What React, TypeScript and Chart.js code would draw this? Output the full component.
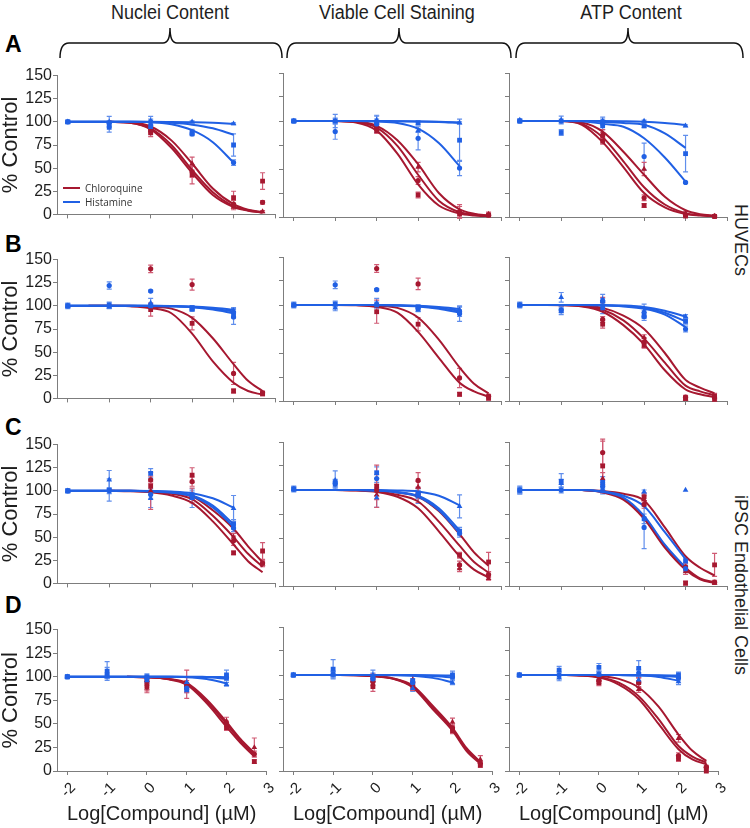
import React, { useEffect, useRef } from 'react';
import { Chart, registerables } from 'chart.js';

Chart.register(...registerables);

// ---------- labels ----------
const COLUMN_TITLES = ['Nuclei Content', 'Viable Cell Staining', 'ATP Content'];
const ROW_LETTERS = ['A', 'B', 'C', 'D'];
const CELL_LABELS = ['HUVECs', 'iPSC Endothelial Cells'];
const COMPOUNDS = ['Chloroquine', 'Histamine'];
const X_TITLE = 'Log[Compound] (µM)';
const Y_TITLE = '% Control';

// ---------- axes ----------
const X_TICKS = [-2, -1, 0, 1, 2, 3];
const Y_TICKS = [0, 25, 50, 75, 100, 125, 150];
const MARKERS = ['rect', 'circle', 'triangle'];

// ---------- x positions ----------
const HIS_X = [-2, -1, 0, 1, 2];
const CHL_X = [0, 1, 2, 2.7];
const FIT_X = [-2, -1.5, -1, -0.5, 0, 0.5, 1, 1.5, 2, 2.35, 2.7];

// ---------- Row A (HUVECs) ----------
const A1_HIS = [[100, 94, 95, 89, 75], [100, 98, 100, 87, 56], [100, 100, 101, 100, 98]];
const A1_HIS_ERR = [[2, 5, 4, 3, 12], [1, 3, 3, 2, 3], [1, 6, 5, 1, 1]];
const A1_HIS_FIT = [
  [100, 100, 100, 100, 99.8, 99, 97, 93, 86, null, null],
  [100, 100, 100, 100, 99.5, 97.5, 91, 78, 56, null, null],
  [100, 100, 100, 100, 100, 99.8, 99.5, 99, 98, null, null],
];
const A1_CHL = [[88, 43, 18, 36], [90, 46, 11, 13], [93, 55, 8, 3]];
const A1_CHL_ERR = [[4, 10, 7, 9], [3, 6, 4, 2], [3, 7, 3, 1]];
const A1_CHL_FIT = [
  [null, null, 100, 99, 92, 72, 45, 21, 8, 4, 2],
  [null, null, 100, 99, 93, 75, 48, 24, 9, 4.5, 2],
  [null, null, 100, 99.5, 95, 80, 55, 28, 11, 5, 2.5],
];

const A2_HIS = [[100, 100, 98, 98, 80], [100, 89, 97, 82, 51], [100, 100, 101, 90, 98]];
const A2_HIS_ERR = [[2, 3, 4, 2, 22], [1, 8, 9, 12, 8], [1, 7, 4, 2, 1]];
const A2_HIS_FIT = [
  [100, 100, 100, 100, 100, 99.8, 99.5, 99, 98, null, null],
  [100, 100, 100, 100, 99.5, 98, 92, 77, 53, null, null],
  [100, 100, 100, 100, 100, 99.8, 99.6, 99.2, 98.5, null, null],
];
const A2_CHL = [[90, 23, 3, 2], [93, 38, 5, 2], [95, 52, 6, 3]];
const A2_CHL_ERR = [[3, 3, 4, 1], [3, 4, 6, 1], [3, 5, 7, 2]];
const A2_CHL_FIT = [
  [null, null, 100, 98.5, 90, 66, 34, 12, 3.5, 1.5, 0.7],
  [null, null, 100, 99, 93, 74, 44, 17, 5, 2.5, 1],
  [null, null, 100, 99.5, 95, 80, 55, 25, 8, 3.5, 1.5],
];

const A3_HIS = [[100, 88, 95, 95, 66], [100, 100, 99, 63, 36], [101, 101, 100, 100, 95]];
const A3_HIS_ERR = [[2, 3, 4, 2, 19], [1, 2, 3, 14, 1], [1, 4, 4, 1, 1]];
const A3_HIS_FIT = [
  [100, 100, 100, 100, 99, 98, 96, 87, 72, null, null],
  [100, 100, 100, 99.8, 97, 94, 82, 62, 37, null, null],
  [100, 100, 100, 100, 100, 99.8, 99.3, 98, 96, null, null],
];
const A3_CHL = [[79, 12, 1, 0.5], [85, 20, 2, 1], [87, 50, 4, 1]];
const A3_CHL_ERR = [[3, 2, 1, 0.5], [3, 3, 1, 0.5], [4, 7, 2, 1]];
const A3_CHL_FIT = [
  [null, 100, 100, 96, 78, 52, 25, 10, 3, 1.5, 0.7],
  [null, 100, 100, 97, 83, 58, 31, 13, 4, 2, 1],
  [null, 100, 100, 98.5, 89, 68, 44, 21, 7, 3, 1.5],
];

// ---------- Row B (HUVECs) ----------
const B1_HIS = [[100, 101, 100, 98, 92], [100, 122, 116, 97, 88], [100, 99, 103, 96, 95]];
const B1_HIS_ERR = [[3, 3, 3, 2, 5], [2, 4, 1, 2, 8], [2, 2, 5, 2, 3]];
const B1_HIS_FIT = [
  [100, 100, 100, 100, 100, 99.8, 99.3, 98, 96, null, null],
  [100, 100, 100, 100, 100, 99.6, 98.8, 97, 94, null, null],
  [100, 100, 100, 100, 99.9, 99.4, 98.5, 96, 92, null, null],
];
const B1_CHL = [[96, 81, 8, 5], [140, 123, 27, 6]];
const B1_CHL_ERR = [[7, 7, 2, 2], [4, 6, 12, 2]];
const B1_CHL_FIT = [
  [null, 100, 100, 99.5, 97.5, 92, 70, 40, 17, 8, 4],
  [null, 100, 100, 100, 99, 97, 87, 65, 37, 19, 8],
];

const B2_HIS = [[100, 101, 100, 98, 93], [100, 121, 116, 97, 91], [100, 97, 102, 95, 95]];
const B2_HIS_ERR = [[3, 3, 3, 2, 5], [2, 4, 1, 2, 8], [2, 3, 5, 2, 3]];
const B2_HIS_FIT = [
  [100, 100, 100, 100, 100, 99.8, 99.3, 98, 96, null, null],
  [100, 100, 100, 100, 100, 99.6, 98.8, 97, 94, null, null],
  [100, 100, 100, 100, 99.9, 99.4, 98.5, 96, 92, null, null],
];
const B2_CHL = [[93, 80, 7, 3], [138, 122, 24, 5]];
const B2_CHL_ERR = [[12, 7, 2, 2], [4, 6, 10, 2]];
const B2_CHL_FIT = [
  [null, 100, 100, 99.7, 98, 92, 72, 45, 19, 10, 4.5],
  [null, 100, 100, 100, 99.3, 97, 87, 64, 35, 18, 8],
];

const B3_HIS = [[100, 94, 97, 90, 83], [100, 95, 104, 88, 75], [100, 108, 106, 94, 88]];
const B3_HIS_ERR = [[3, 4, 6, 4, 3], [2, 3, 3, 4, 3], [2, 5, 5, 7, 2]];
const B3_HIS_FIT = [
  [100, 100, 100, 100, 99.8, 99, 97, 92, 83, null, null],
  [100, 100, 100, 100, 99.7, 98.5, 96, 90, 77, null, null],
  [100, 100, 100, 100, 99.9, 99.5, 98, 94, 88, null, null],
];
const B3_CHL = [[80, 58, 3, 5], [85, 61, 4, 3], [104, 66, 2, 1]];
const B3_CHL_ERR = [[4, 3, 2, 3], [3, 5, 2, 2], [4, 3, 1, 1]];
const B3_CHL_FIT = [
  [null, 100, 99.8, 98.5, 93, 79, 59, 32, 12, 7, 4],
  [null, 100, 100, 99, 95, 84, 65, 40, 16, 10, 6],
  [null, 100, 100, 99.5, 97, 89, 75, 50, 22, 14, 8],
];

// ---------- Row C (iPSC endothelial) ----------
const C1_HIS = [[100, 101, 119, 96, 64], [100, 100, 96, 94, 60], [100, 112, 92, 92, 81]];
const C1_HIS_ERR = [[2, 12, 5, 4, 5], [2, 3, 4, 3, 4], [2, 10, 10, 10, 14]];
const C1_HIS_FIT = [
  [100, 100, 100, 100, 99.5, 98.5, 95, 84, 64, null, null],
  [100, 100, 100, 100, 99.3, 98, 94, 82, 61, null, null],
  [100, 100, 100, 100, 99.8, 99.3, 97.5, 92, 82, null, null],
];
const C1_CHL = [[105, 117, 33, 35], [112, 110, 46, 22], [100, 95, 50, 21]];
const C1_CHL_ERR = [[5, 8, 2, 9], [4, 5, 5, 3], [20, 8, 4, 3]];
const C1_CHL_FIT = [
  [null, null, 100, 99.6, 98.5, 95, 87, 67, 42, 24, 12],
  [null, null, 100, 99.8, 99, 97, 91, 73, 50, 32, 18],
  [null, null, 100, 100, 99.5, 98, 94, 79, 59, 40, 23],
];

const C2_HIS = [[101, 106, 118, 95, 57], [101, 107, 112, 96, 55], [101, 110, 92, 94, 83]];
const C2_HIS_ERR = [[3, 4, 6, 4, 4], [2, 4, 4, 4, 4], [2, 10, 10, 8, 12]];
const C2_HIS_FIT = [
  [100, 100, 100, 100, 99.5, 98, 94, 81, 58, null, null],
  [100, 100, 100, 100, 99.3, 97.5, 93, 79, 55, null, null],
  [100, 100, 100, 100, 100, 99.6, 98.5, 94, 84, null, null],
];
const C2_CHL = [[104, 95, 32, 25], [100, 110, 22, 12], [95, 103, 18, 8]];
const C2_CHL_ERR = [[22, 8, 3, 10], [6, 8, 4, 3], [5, 6, 3, 2]];
const C2_CHL_FIT = [
  [null, null, 100, 99.4, 98, 93, 81, 57, 31, 17, 9],
  [null, null, 100, 99.7, 98.5, 95, 88, 67, 42, 25, 14],
  [null, null, 100, 100, 99.4, 97.5, 93, 78, 54, 35, 21],
];

const C3_HIS = [[100, 109, 108, 70, 26], [100, 100, 104, 61, 18], [99, 107, 101, 98, 100]];
const C3_HIS_ERR = [[4, 8, 6, 5, 3], [3, 3, 4, 22, 3], [3, 4, 5, 2, 0]];
const C3_HIS_FIT = [
  [100, 100, 100, 100, 98.5, 94, 83, 56, 28, null, null],
  [100, 100, 100, 100, 98, 92, 73, 43, 19, null, null],
];
const C3_CHL = [[125, 93, 3, 22], [139, 85, 20, 4], [112, 90, 15, 3]];
const C3_CHL_ERR = [[28, 4, 2, 12], [12, 4, 4, 2], [6, 4, 3, 1]];
const C3_CHL_FIT = [
  [null, null, null, 100, 98, 91, 72, 42, 19, 8, 4],
  [null, null, null, 100, 97.5, 90, 70, 40, 17, 7, 3],
  [null, null, null, 100, 99, 96, 89, 61, 31, 19, 11],
];

// ---------- Row D (iPSC endothelial) ----------
const D1_HIS = [[100, 106, 100, 86, 102], [100, 101, 98, 88, 99], [100, 104, 96, 94, 92]];
const D1_HIS_ERR = [[2, 10, 3, 3, 5], [1, 3, 3, 3, 3], [1, 6, 3, 6, 2]];
const D1_HIS_FIT = [
  [100, 100, 100, 100, 100, 100, 100, 99.8, 99.5, null, null],
  [100, 100, 100, 100, 100, 100, 99.8, 99.4, 98, null, null],
  [100, 100, 100, 100, 100, 99.9, 99.5, 97.5, 93, null, null],
];
const D1_CHL = [[90, 92, 46, 10], [95, 90, 50, 18], [88, 88, 53, 25]];
const D1_CHL_ERR = [[5, 15, 3, 2], [4, 6, 3, 3], [5, 5, 4, 10]];
const D1_CHL_FIT = [
  [null, null, null, 100, 99.3, 97.5, 91.5, 72, 47, 30, 15.5],
  [null, null, null, 100, 99.4, 97.8, 92.5, 74, 50, 32, 17],
  [null, null, null, 100, 99.5, 98, 93.5, 76, 52, 34, 19],
];

const D2_HIS = [[100, 106, 98, 94, 100], [100, 101, 96, 92, 98], [100, 100, 100, 86, 92]];
const D2_HIS_ERR = [[2, 10, 4, 5, 4], [1, 3, 3, 4, 3], [1, 3, 5, 3, 2]];
const D2_HIS_FIT = [
  [100, 100, 100, 100, 100, 100, 100, 99.8, 99.5, null, null],
  [100, 100, 100, 100, 100, 100, 99.7, 99, 97.5, null, null],
  [100, 100, 100, 100, 100, 99.8, 99.2, 97, 92.5, null, null],
];
const D2_CHL = [[88, 88, 42, 6], [93, 92, 45, 8], [97, 95, 51, 12]];
const D2_CHL_ERR = [[5, 4, 3, 2], [4, 8, 3, 2], [4, 5, 4, 4]];
const D2_CHL_FIT = [
  [null, null, 100, 99.8, 98.8, 96, 87, 64.5, 42, 21, 7.5],
  [null, null, 100, 99.8, 99, 96.5, 88, 66, 43.5, 22.5, 8.5],
  [null, null, 100, 99.9, 99, 96.5, 89, 68, 45, 24, 9.5],
];

const D3_HIS = [[100, 105, 108, 107, 100], [100, 100, 101, 102, 97], [100, 97, 100, 95, 93]];
const D3_HIS_ERR = [[2, 4, 4, 8, 3], [1, 3, 3, 4, 3], [1, 3, 3, 3, 3]];
const D3_HIS_FIT = [
  [100, 100, 100, 100, 100, 100, 100, 99.8, 99.5, null, null],
  [100, 100, 100, 100, 100, 100, 99.8, 99.3, 98, null, null],
  [100, 100, 100, 100, 100, 99.9, 99.5, 98, 94, null, null],
];
const D3_CHL = [[92, 92, 13, 0], [94, 92, 16, 4], [96, 85, 34, 5]];
const D3_CHL_ERR = [[3, 5, 3, 1], [3, 5, 3, 1], [3, 3, 4, 1]];
const D3_CHL_FIT = [
  [null, null, 100, 99.5, 97.5, 90, 75, 49, 22.7, 12, 7],
  [null, null, 100, 99.6, 98, 92, 78, 54, 26, 15, 8.7],
  [null, null, 100, 99.8, 99, 96, 87, 67, 38, 21, 10.5],
];

// ---------- panel grid ----------
type Series = (number | null)[][];
type PanelData = { his: Series; hisErr: Series; hisFit: Series; chl: Series; chlErr: Series; chlFit: Series };
const mk = (his: Series, hisErr: Series, hisFit: Series, chl: Series, chlErr: Series, chlFit: Series): PanelData =>
  ({ his, hisErr, hisFit, chl, chlErr, chlFit });

const PANELS: PanelData[][] = [
  [mk(A1_HIS, A1_HIS_ERR, A1_HIS_FIT, A1_CHL, A1_CHL_ERR, A1_CHL_FIT),
   mk(A2_HIS, A2_HIS_ERR, A2_HIS_FIT, A2_CHL, A2_CHL_ERR, A2_CHL_FIT),
   mk(A3_HIS, A3_HIS_ERR, A3_HIS_FIT, A3_CHL, A3_CHL_ERR, A3_CHL_FIT)],
  [mk(B1_HIS, B1_HIS_ERR, B1_HIS_FIT, B1_CHL, B1_CHL_ERR, B1_CHL_FIT),
   mk(B2_HIS, B2_HIS_ERR, B2_HIS_FIT, B2_CHL, B2_CHL_ERR, B2_CHL_FIT),
   mk(B3_HIS, B3_HIS_ERR, B3_HIS_FIT, B3_CHL, B3_CHL_ERR, B3_CHL_FIT)],
  [mk(C1_HIS, C1_HIS_ERR, C1_HIS_FIT, C1_CHL, C1_CHL_ERR, C1_CHL_FIT),
   mk(C2_HIS, C2_HIS_ERR, C2_HIS_FIT, C2_CHL, C2_CHL_ERR, C2_CHL_FIT),
   mk(C3_HIS, C3_HIS_ERR, C3_HIS_FIT, C3_CHL, C3_CHL_ERR, C3_CHL_FIT)],
  [mk(D1_HIS, D1_HIS_ERR, D1_HIS_FIT, D1_CHL, D1_CHL_ERR, D1_CHL_FIT),
   mk(D2_HIS, D2_HIS_ERR, D2_HIS_FIT, D2_CHL, D2_CHL_ERR, D2_CHL_FIT),
   mk(D3_HIS, D3_HIS_ERR, D3_HIS_FIT, D3_CHL, D3_CHL_ERR, D3_CHL_FIT)],
];

// ---------- style / layout ----------
const RED = 'rgb(166, 24, 48)';
const RED_ERR = 'rgb(208, 90, 115)';
const BLUE = 'rgb(32, 96, 228)';
const BLUE_ERR = 'rgb(96, 142, 236)';
const AXIS = '#7d7d7d';
const TEXT = '#1e1e1e';
const FONT = "'Liberation Sans', Arial, sans-serif";

const PLOT_LEFT = [57, 283, 509];
const PLOT_TOP = [73, 257, 442, 627];
const PLOT_W = 218;
const PLOT_H = 144;
const PAD_T = 8;
const PAD_R = 8;
const X_MIN = -2.26;
const X_MAX = 3;
const MARKER_RADIUS: Record<string, number> = { rect: 3.4, circle: 2.6, triangle: 3.3 };

const errorBarPlugin = {
  id: 'errorBars',
  beforeDatasetsDraw(chart: any) {
    const { ctx, scales } = chart;
    chart.data.datasets.forEach((ds: any) => {
      if (!ds.errors) return;
      ctx.save();
      ctx.strokeStyle = ds.errColor;
      ctx.lineWidth = 1.2;
      ds.data.forEach((p: any, j: number) => {
        const e = ds.errors[j];
        if (!e) return;
        const px = scales.x.getPixelForValue(p.x);
        const top = scales.y.getPixelForValue(p.y + e);
        const bot = scales.y.getPixelForValue(p.y - e);
        ctx.beginPath();
        ctx.moveTo(px, top);
        ctx.lineTo(px, bot);
        ctx.moveTo(px - 2.5, top);
        ctx.lineTo(px + 2.5, top);
        ctx.moveTo(px - 2.5, bot);
        ctx.lineTo(px + 2.5, bot);
        ctx.stroke();
      });
      ctx.restore();
    });
  },
};

function Panel({ row, col }: { row: number; col: number }) {
  const ref = useRef<HTMLCanvasElement>(null);
  const yw = col === 0 ? 57 : 8;
  const xh = row === 3 ? 55 : 8;
  const W = yw + PLOT_W + PAD_R;
  const H = PAD_T + PLOT_H + xh;

  useEffect(() => {
    const d = PANELS[row][col];
    const datasets: any[] = [];
    const addFits = (fits: Series, color: string) =>
      fits.forEach((f) =>
        datasets.push({
          type: 'line',
          data: FIT_X.map((x, i) => ({ x, y: f[i] })).filter((p) => p.y !== null),
          borderColor: color,
          borderWidth: 2,
          pointRadius: 0,
          cubicInterpolationMode: 'monotone',
          fill: false,
        })
      );
    const addPts = (xs: number[], vals: Series, errs: Series, color: string, errColor: string) =>
      vals.forEach((v, k) =>
        datasets.push({
          type: 'scatter',
          data: xs.map((x, i) => ({ x, y: v[i] })),
          errors: errs[k],
          errColor,
          pointStyle: MARKERS[k],
          pointRadius: MARKER_RADIUS[MARKERS[k]],
          backgroundColor: color,
          borderColor: color,
          borderWidth: 0,
          showLine: false,
          clip: 8,
        })
      );
    addPts(HIS_X, d.his, d.hisErr, BLUE, BLUE_ERR);
    addPts(CHL_X, d.chl, d.chlErr, RED, RED_ERR);
    addFits(d.hisFit, BLUE);
    addFits(d.chlFit, RED);

    const chart = new Chart(ref.current as HTMLCanvasElement, {
      type: 'scatter',
      data: { datasets },
      plugins: [errorBarPlugin],
      options: {
        animation: false,
        responsive: false,
        devicePixelRatio: 1,
        events: [],
        layout: { padding: { top: PAD_T, right: PAD_R, left: 0, bottom: 0 } },
        plugins: { legend: { display: false }, tooltip: { enabled: false } },
        scales: {
          x: {
            type: 'linear',
            min: X_MIN,
            max: X_MAX,
            afterBuildTicks: (s: any) => { s.ticks = X_TICKS.map((v) => ({ value: v })); },
            afterFit: (s: any) => { s.height = xh; },
            grid: { drawOnChartArea: false, drawTicks: true, tickLength: 4, color: AXIS },
            border: { color: AXIS, width: 1 },
            ticks: {
              display: row === 3,
              autoSkip: false,
              minRotation: 45,
              maxRotation: 45,
              padding: 4,
              labelOffset: 6,
              color: TEXT,
              font: { size: 15, family: FONT },
              callback: (v: any) => String(v),
            },
            title: { display: row === 3, text: X_TITLE, color: TEXT, padding: 0, font: { size: 20, family: FONT } },
          },
          y: {
            type: 'linear',
            min: 0,
            max: 150,
            afterBuildTicks: (s: any) => { s.ticks = Y_TICKS.map((v) => ({ value: v })); },
            afterFit: (s: any) => { s.width = yw; },
            grid: { drawOnChartArea: false, drawTicks: true, tickLength: 4, color: AXIS },
            border: { color: AXIS, width: 1 },
            ticks: { display: col === 0, padding: 1, color: TEXT, font: { size: 16, family: FONT } },
            title: { display: col === 0, text: Y_TITLE, color: TEXT, padding: 0, font: { size: 22, family: FONT, lineHeight: 1 } },
          },
        },
      } as any,
    });
    return () => chart.destroy();
  }, [row, col]);

  return (
    <canvas
      ref={ref}
      width={W}
      height={H}
      style={{ position: 'absolute', left: PLOT_LEFT[col] - yw, top: PLOT_TOP[row] - PAD_T, width: W, height: H }}
    />
  );
}

const BRACES = [
  [60, 170, 282],
  [287, 399, 511],
  [516, 628, 743],
];
const TITLE_X = [170, 397, 631];
const LETTER_TOP = [33, 233, 416, 594];
const CELL_LABEL_Y = [240, 585];

function bracePath(x1: number, xm: number, x2: number) {
  const yb = 58, yh = 43, yt = 28;
  return `M ${x1} ${yb} Q ${x1} ${yh} ${x1 + 9} ${yh} L ${xm - 7} ${yh} Q ${xm} ${yh} ${xm} ${yt} Q ${xm} ${yh} ${xm + 7} ${yh} L ${x2 - 9} ${yh} Q ${x2} ${yh} ${x2} ${yb}`;
}

export default function App() {
  const rows = [0, 1, 2, 3];
  const cols = [0, 1, 2];
  return (
    <div style={{ position: 'absolute', left: 0, top: 0, width: 750, height: 828, background: '#fff', overflow: 'hidden', fontFamily: FONT, color: TEXT }}>
      {COLUMN_TITLES.map((t, i) => (
        <div key={t} style={{ position: 'absolute', left: TITLE_X[i], top: 2, fontSize: 20, lineHeight: '20px', whiteSpace: 'nowrap', transform: 'translateX(-50%) scaleX(0.9)' }}>{t}</div>
      ))}
      <svg width={750} height={70} style={{ position: 'absolute', left: 0, top: 0 }}>
        {BRACES.map((b, i) => (
          <path key={i} d={bracePath(b[0], b[1], b[2])} fill="none" stroke="#111" strokeWidth={1.5} />
        ))}
      </svg>
      {ROW_LETTERS.map((l, i) => (
        <div key={l} style={{ position: 'absolute', left: 5, top: LETTER_TOP[i], fontSize: 23, fontWeight: 'bold', lineHeight: '23px', color: '#000' }}>{l}</div>
      ))}
      {CELL_LABELS.map((t, i) => (
        <div key={t} style={{ position: 'absolute', left: 741, top: CELL_LABEL_Y[i], fontSize: 18, lineHeight: '18px', whiteSpace: 'nowrap', transform: 'translate(-50%, -50%) rotate(90deg)' }}>{t}</div>
      ))}
      {rows.map((r) => cols.map((c) => <Panel key={`${r}-${c}`} row={r} col={c} />))}
      {COMPOUNDS.map((t, i) => (
        <div key={t} style={{ position: 'absolute', left: 63, top: 181 + i * 14, height: 14, display: 'flex', alignItems: 'center' }}>
          <div style={{ width: 17, height: 2.5, background: i === 0 ? RED : BLUE, marginRight: 5 }} />
          <span style={{ fontFamily: "'Open Sans', sans-serif", fontSize: 10, color: '#333' }}>{t}</span>
        </div>
      ))}
    </div>
  );
}
